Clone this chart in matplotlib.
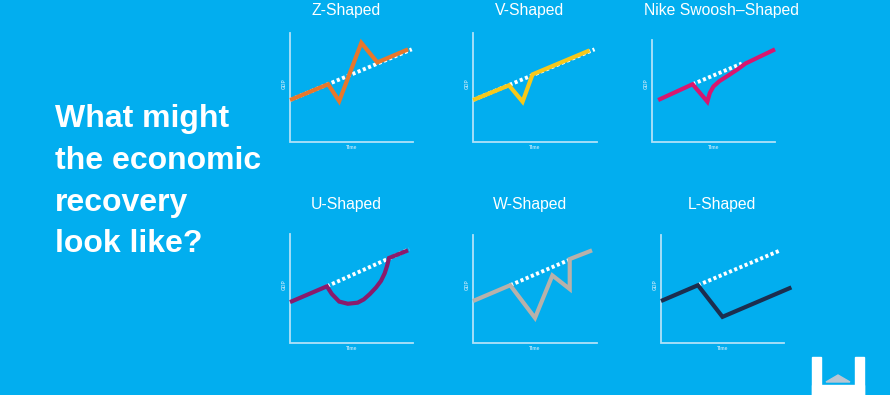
import matplotlib.pyplot as plt
from matplotlib.patches import Rectangle, Polygon

BG = '#02aeef'
AXIS_COLOR = '#b0e2f8'

# curve data, in percent of each panel's axis box (x: time, y: GDP)
z_x = [0, 31, 40, 58, 71, 96]
z_y = [38.5, 53, 37.5, 91, 73, 85]
v_x = [0, 29, 40, 48, 94]
v_y = [38.5, 52, 37, 62, 84]
nike_x = [5, 33, 45, 47, 50, 55, 62, 70, 76, 100]
nike_y = [38.5, 53, 37, 45, 51, 56, 61, 67, 72, 85]
u_x = [0, 30, 34, 40, 47, 55, 60, 65, 70, 74, 77, 79, 80.5, 96]
u_y = [37.5, 52, 45, 38, 36, 37, 40, 45, 51, 57, 64, 71, 78, 85]
w_x = [0, 30, 50, 64, 78, 78, 96]
w_y = [38.5, 53, 23, 62, 49.5, 77, 85]
l_x = [0, 30, 50, 106]
l_y = [38.5, 53, 24, 51]

# trend (pre-crisis path) start/end
trends = {
    'Z-Shaped': ([0, 99], [38.5, 85]),
    'V-Shaped': ([0, 98], [38.5, 85]),
    'Nike Swoosh\u2013Shaped': ([33, 73], [53, 72]),
    'U-Shaped': ([30, 97], [52, 86]),
    'W-Shaped': ([30, 77], [53, 76]),
    'L-Shaped': ([30, 97], [53, 85]),
}

panels = [
    # title, xs, ys, color, (left px, right px, bottom px), y-axis top, title centre px
    ('Z-Shaped', z_x, z_y, '#e8772b', (290, 413, 142), 100, 346),
    ('V-Shaped', v_x, v_y, '#f7c81a', (473, 597, 142), 100, 530),
    ('Nike Swoosh\u2013Shaped', nike_x, nike_y, '#d8176f', (652, 775, 142), 94, 721),
    ('U-Shaped', u_x, u_y, '#8a1b6c', (290, 413, 343), 100, 346),
    ('W-Shaped', w_x, w_y, '#b8b1aa', (473, 597, 343), 99, 530),
    ('L-Shaped', l_x, l_y, '#1c2e4f', (661, 784, 343), 99, 722),
]

W, H = 890, 395
fig = plt.figure(figsize=(W / 100, H / 100), dpi=100, facecolor=BG)
plt.rcParams['font.family'] = ['Liberation Sans', 'DejaVu Sans']

for title, xs, ys, color, (x0, x1, yb), ytop, tcx in panels:
    ax = fig.add_axes([x0 / W, (H - yb) / H, (x1 - x0) / W, 109 / H])
    ax.set_xlim(0, 100)
    ax.set_ylim(0, 100)
    ax.axis('off')
    # axis lines
    ax.plot([0, 0, 100], [ytop, 0, 0], color=AXIS_COLOR, lw=1.3, clip_on=False,
            solid_joinstyle='miter')
    ax.text(-5, 54, 'GDP', rotation=90, fontsize=3.5, color=AXIS_COLOR,
            ha='center', va='center', fontweight='bold')
    ax.text(50, -5, 'Time', fontsize=3.5, color=AXIS_COLOR, ha='center',
            va='center', fontweight='bold')
    tx, ty = trends[title]
    ax.plot(tx, ty, color='white', lw=2.8, linestyle=(0, (0.8, 0.65)),
            dash_capstyle='butt', clip_on=False, zorder=2)
    ax.plot(xs, ys, color=color, lw=3.0, clip_on=False, zorder=3,
            solid_joinstyle='miter', solid_capstyle='butt')
    ty_px = 10 if yb < 200 else 205
    fig.text(tcx / W, 1 - ty_px / H, title, fontsize=11.3,
             color='white', ha='center', va='center')

# headline
for i, line in enumerate(['What might', 'the economic', 'recovery', 'look like?']):
    fig.text(55 / W, 1 - (127 + 41.8 * i) / H, line, fontsize=23,
             fontweight='bold', color='white', ha='left', va='baseline')

# logo bottom right
fig.patches.append(Rectangle((812 / W, 0), 9 / W, 38 / H, color='white',
                             transform=fig.transFigure))
fig.patches.append(Rectangle((855 / W, 0), 9 / W, 38 / H, color='white',
                             transform=fig.transFigure))
fig.patches.append(Rectangle((812 / W, 0), 52 / W, 10 / H, color='white',
                             transform=fig.transFigure))
fig.patches.append(Polygon([(826 / W, 13 / H), (838 / W, 20 / H), (850 / W, 13 / H)],
                           closed=True, color='#b9c6d3', transform=fig.transFigure))

fig.savefig('out.png', dpi=100, facecolor=BG)
